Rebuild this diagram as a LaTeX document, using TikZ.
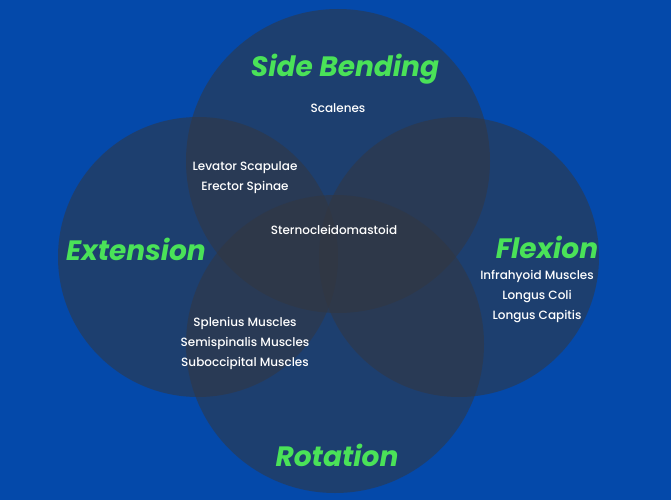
\documentclass[tikz,border=0pt]{standalone}
\usepackage{fontspec}
\setmainfont{Poppins}
\newfontfamily\bodyfont{Poppins}[UprightFont={* Medium}]
\definecolor{bgblue}{RGB}{4,73,170}
\definecolor{discgray}{RGB}{51,55,64}
\definecolor{lblgreen}{RGB}{74,226,88}
\tikzset{
  disc/.style={fill=discgray, fill opacity=0.55, draw=none},
  setlabel/.style={text=lblgreen, font=\fontsize{28}{30}\selectfont\bfseries\itshape, inner sep=0pt},
  muscle/.style={text=white, font=\bodyfont\fontsize{12}{20}\selectfont, align=center, inner sep=0pt}
}
\begin{document}
\begin{tikzpicture}[x=1pt,y=-1pt]
  \fill[bgblue] (0,0) rectangle (671,500);
  \useasboundingbox (0,0) rectangle (671,500);
  \fill[disc] (338,161) circle[radius=152];
  \fill[disc] (198,257) circle[radius=140];
  \fill[disc] (459,257) circle[radius=140];
  \fill[disc] (335,344) circle[radius=149];
  \node[setlabel] (sb) at (345,69) {Side Bending};
  \node[setlabel] (ext) at (136,249) {Extension};
  \node[setlabel] (flx) at (547,247) {Flexion};
  \node[setlabel] (rot) at (337,455) {Rotation};
  \node[muscle] (sc) at (338,108) {Scalenes};
  \node[muscle] (ls) at (245,178) {Levator Scapulae\\Erector Spinae};
  \node[muscle] (scm) at (334,230) {Sternocleidomastoid};
  \node[muscle] (inf) at (537,296) {Infrahyoid Muscles\\Longus Coli\\Longus Capitis};
  \node[muscle] (spl) at (245,343) {Splenius Muscles\\Semispinalis Muscles\\Suboccipital Muscles};
\end{tikzpicture}
\end{document}
